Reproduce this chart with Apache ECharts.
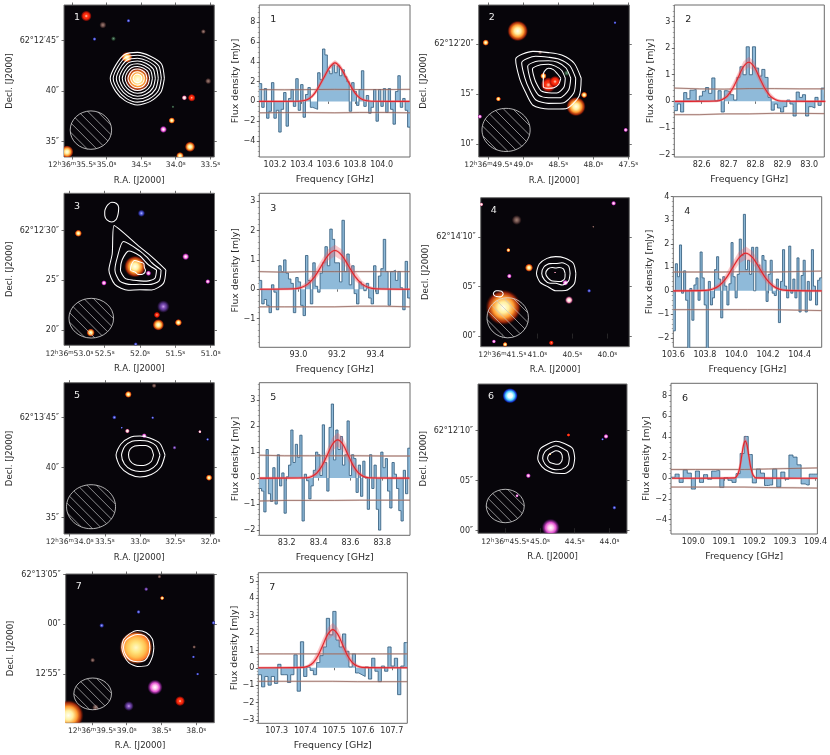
<!DOCTYPE html>
<html>
<head>
<meta charset="utf-8">
<script src="https://cdn.jsdelivr.net/npm/echarts@6/dist/echarts.min.js"></script>
<style>html,body{margin:0;background:#fff}#main{width:830px;height:755px}</style>
</head>
<body>
<div id="main"></div>
<script>
// spectra: flux per channel [mJy]
var flux1 = [1.8,-0.6,1.3,-1.7,-1.0,1.9,-1.7,-0.9,-3.1,-0.8,0.9,-2.5,0.3,1.2,-0.5,2.3,-0.9,1.7,-1.6,0.7,1.4,-0.6,-0.7,-0.8,2.9,2.2,5.3,4.7,3.1,2.8,3.7,2.9,3.6,2.6,3.2,2.5,2.0,-1.0,1.9,1.0,-0.4,1.2,3.1,-0.5,0.6,-1.2,-0.6,1.2,-2.0,1.2,-0.5,1.3,-1.1,1.3,-0.8,-2.3,1.0,2.6,-0.6,0.3,-0.9,-2.6];
var flux2 = [-0.35,-0.1,-0.4,0.33,0.1,0.42,0.45,0.02,0.2,0.38,0.52,0.3,0.88,0.02,0.4,-0.4,0.4,0.35,0.25,0.05,0.9,1.3,1.0,2.05,1.0,2.05,1.25,0.95,1.2,0.9,0.15,-0.33,-0.1,-0.25,-0.4,-0.2,0.05,-0.1,-0.55,0.35,0.15,0.25,-0.55,-0.2,-0.25,0.15,-0.15,0.5];
var flux3 = [0.3,-0.5,-0.35,-0.55,-0.8,0.15,-0.1,-0.7,0.8,0.6,1.0,0.55,0.35,0.2,-0.8,0.4,0.25,-0.55,-0.9,1.15,0.3,-0.5,0.9,0.1,-0.1,0.55,0.9,1.45,0.8,2.05,1.7,0.9,0.9,0.25,2.35,0.6,1.2,0.15,0.8,-0.15,-0.5,0.25,0.15,-0.05,0.2,-0.3,-0.5,0.8,-0.15,0.45,0.7,1.7,0.6,-0.55,0.6,0.65,0.3,0.6,0.05,-0.7,0.95,-0.3];
var flux4 = [-1.7,1.15,0.6,1.95,-0.1,0.85,-0.4,-2.6,0.1,-1.25,0.25,0.55,-0.4,1.65,0.55,-0.6,-2.6,0.4,-0.6,-0.3,0.9,1.45,0.5,-1.15,0.6,0.2,-0.6,0.3,2.05,0.6,-0.3,0.7,2.2,1.5,3.25,0.9,1.3,0.7,1.85,0,1.85,1.1,0.8,1.5,1.3,-0.45,0.7,1.3,-0.1,-0.2,0.5,-1.35,0.4,1.75,0.2,-0.3,1.9,-0.1,0.5,-0.3,1.4,-0.9,0.65,1.3,-0.9,0.4,-0.4,1.75,0.2,-0.6,0.45,0.55];
var flux5 = [-0.4,-0.5,-1.3,1.1,-0.6,-0.9,0.4,-1.0,0.9,-0.3,0.2,-1.35,0.05,0.5,1.85,0.6,1.3,0.8,1.65,-1.65,0.15,-0.1,-0.8,-0.3,0.3,1.0,0.9,0.1,2.05,0.6,-0.5,1.95,2.85,0.7,1.85,1.1,1.6,0.5,0.9,2.2,0.1,0.9,0.75,-0.55,0.5,-0.7,0.65,0.0,-1.2,0.9,-0.4,0.5,-1.2,-2.0,1.0,0.4,0.75,-0.5,-1.15,0.6,0.15,-0.4,-1.25,-1.65,0.3,-0.6,1.15];
var flux6 = [0.1,0.4,-0.4,0.8,0.5,-1.05,0.7,-0.4,0.35,-0.1,0.7,0.75,-0.9,0.05,-0.2,-0.4,0.45,2.4,4.05,2.3,-0.45,0.9,0.5,-0.7,-0.65,0.9,-0.85,0.6,-0.1,2.25,2.05,1.3,-0.55,-0.65,0.4,0.4];
var flux7 = [-0.4,-1.1,-0.5,-1.0,-0.5,-0.9,0.2,-0.4,-0.4,-0.85,-0.4,0.75,-1.35,1.5,-0.5,0.05,-0.15,-0.4,0.3,0.7,1.2,2.85,1.9,3.25,1.6,1.2,1.95,0.95,0.05,0.8,-0.3,-0.4,-0.5,0.05,-0.65,0.55,-0.2,-0.8,0.1,-0.2,1.2,0.1,0.55,-1.55,0.1,1.45];

// fitted line and its uncertainty band
var modelFreq1 = [103.08,103.35,103.395,103.44,103.48,103.52,103.565,103.61,103.65,103.69,103.735,103.78,103.82,103.86,103.905,103.95,104.21];
var modelFlux1 = [0,0.01,0.04,0.17,0.53,1.27,2.37,3.44,3.9,3.44,2.37,1.27,0.53,0.17,0.04,0.01,0];
var bandHigh1 = [0.05,0.05,0.12,0.3,0.8,1.6,2.75,3.75,4.2,3.75,2.75,1.6,0.8,0.3,0.12,0.05,0.05];
var bandLow1 = [-0.05,-0.03,-0.02,0.06,0.35,1.0,2.1,3.2,3.65,3.2,2.1,1.0,0.35,0.06,-0.02,-0.03,-0.05];
var modelFreq2 = [82.5,82.655,82.675,82.695,82.715,82.735,82.755,82.775,82.795,82.815,82.835,82.855,82.875,82.895,83.06];
var modelFlux2 = [0,0.016,0.065,0.2,0.48,0.89,1.3,1.47,1.3,0.89,0.48,0.2,0.065,0.016,0];
var bandHigh2 = [0.03,0.04,0.12,0.32,0.66,1.08,1.5,1.68,1.5,1.08,0.66,0.32,0.12,0.04,0.03];
var bandLow2 = [-0.03,-0.02,0.02,0.12,0.34,0.72,1.12,1.28,1.12,0.72,0.34,0.12,0.02,-0.02,-0.03];
var modelFreq3 = [92.8,92.98,93.015,93.05,93.085,93.12,93.155,93.19,93.225,93.26,93.295,93.33,93.365,93.4,93.58];
var modelFlux3 = [0,0.015,0.058,0.18,0.43,0.8,1.165,1.32,1.165,0.8,0.43,0.18,0.058,0.015,0];
var bandHigh3 = [0.03,0.05,0.12,0.3,0.62,1.0,1.36,1.52,1.36,1.0,0.62,0.3,0.12,0.05,0.03];
var bandLow3 = [-0.03,-0.02,0.01,0.09,0.28,0.62,0.98,1.12,0.98,0.62,0.28,0.09,0.01,-0.02,-0.03];
var modelFreq4 = [103.6,103.805,103.8475,103.89,103.9325,103.975,104.0175,104.06,104.1025,104.145,104.1875,104.23,104.2725,104.315,104.54];
var modelFlux4 = [0,0.018,0.07,0.216,0.52,0.97,1.41,1.6,1.41,0.97,0.52,0.216,0.07,0.018,0];
var bandHigh4 = [0.04,0.06,0.14,0.34,0.72,1.22,1.68,1.88,1.68,1.22,0.72,0.34,0.14,0.06,0.04];
var bandLow4 = [-0.04,-0.02,0.02,0.11,0.34,0.74,1.16,1.34,1.16,0.74,0.34,0.11,0.02,-0.02,-0.04];
var modelFreq5 = [83.03,83.325,83.3575,83.39,83.4225,83.455,83.4875,83.52,83.5525,83.585,83.6175,83.65,83.6825,83.715,83.97];
var modelFlux5 = [0,0.016,0.065,0.2,0.48,0.89,1.3,1.47,1.3,0.89,0.48,0.2,0.065,0.016,0];
var bandHigh5 = [0.04,0.05,0.13,0.34,0.68,1.14,1.56,1.75,1.56,1.14,0.68,0.34,0.13,0.05,0.04];
var bandLow5 = [-0.04,-0.02,0.01,0.08,0.28,0.66,1.05,1.22,1.05,0.66,0.28,0.08,0.01,-0.02,-0.04];
var modelFreq6 = [108.93,109.1355,109.141,109.147,109.153,109.1585,109.164,109.17,109.176,109.1815,109.187,109.193,109.199,109.2045,109.406];
var modelFlux6 = [0,0.04,0.16,0.49,1.17,2.18,3.18,3.6,3.18,2.18,1.17,0.49,0.16,0.04,0];
var bandHigh6 = [0.06,0.1,0.3,0.8,1.6,2.6,3.6,4.2,3.6,2.6,1.6,0.8,0.3,0.1,0.06];
var bandLow6 = [-0.06,-0.04,0.03,0.25,0.8,1.75,2.75,3.1,2.75,1.75,0.8,0.25,0.03,-0.04,-0.06];
var modelFreq7 = [107.236,107.393,107.41,107.427,107.444,107.461,107.478,107.495,107.512,107.529,107.546,107.563,107.58,107.597,107.754];
var modelFlux7 = [0,0.025,0.097,0.3,0.71,1.33,1.94,2.2,1.94,1.33,0.71,0.3,0.097,0.025,0];
var bandHigh7 = [0.05,0.08,0.2,0.52,1.05,1.7,2.3,2.6,2.3,1.7,1.05,0.52,0.2,0.08,0.05];
var bandLow7 = [-0.05,-0.03,0.02,0.12,0.42,0.98,1.6,1.85,1.6,0.98,0.42,0.12,0.02,-0.03,-0.05];

// the +/- 1 sigma noise lines, sampled evenly across each spectrum
var sigmaHigh = [
  [1.2,1.18,1.2,1.22,1.2,1.2,1.22],
  [0.5,0.47,0.46,0.48,0.48,0.47,0.47],
  [0.6,0.58,0.6,0.6,0.6,0.6,0.6],
  [0.8,0.8,0.8,0.82,0.8,0.82,0.84],
  [0.88,0.86,0.86,0.86,0.86,0.85,0.85],
  [0.85,0.85,0.85,0.85,0.9,0.95,1.0],
  [0.8,0.8,0.8,0.8,0.8,0.8,0.8]
];
var sigmaLow = [
  [-1.15,-1.13,-1.13,-1.15,-1.12,-1.12,-1.15],
  [-0.5,-0.5,-0.47,-0.47,-0.45,-0.45,-0.46],
  [-0.6,-0.6,-0.6,-0.6,-0.58,-0.58,-0.6],
  [-0.8,-0.8,-0.8,-0.8,-0.8,-0.82,-0.84],
  [-0.88,-0.86,-0.86,-0.86,-0.85,-0.85,-0.85],
  [-0.85,-0.85,-0.85,-0.85,-0.9,-0.92,-0.95],
  [-0.78,-0.78,-0.78,-0.78,-0.8,-0.8,-0.8]
];

var freqRange = [[103.082,104.213],[82.498,83.056],[92.797,93.58],[103.6,104.54],[83.028,83.974],[108.927,109.406],[107.236,107.754]];
var fluxRange = [[-5.62,9.75],[-2.09,3.62],[-1.98,3.27],[-2.4,4],[-2.2,3.67],[-5.4,9.2],[-3.2,5.48]];
var freqTicks = [
  [103.2,103.4,103.6,103.8,104.0],
  [82.6,82.7,82.8,82.9,83.0],
  [93.0,93.2,93.4],
  [103.6,103.8,104.0,104.2,104.4],
  [83.2,83.4,83.6,83.8],
  [109.0,109.1,109.2,109.3,109.4],
  [107.3,107.4,107.5,107.6,107.7]
];
var fluxTicks = [
  [-4,-2,0,2,4,6,8],
  [-2,-1,0,1,2,3],
  [-1,0,1,2,3],
  [-2,-1,0,1,2,3,4],
  [-2,-1,0,1,2,3],
  [-4,-2,0,2,4,6,8],
  [-3,-2,-1,0,1,2,3,4,5]
];
var fluxMinorStep = [0.5,0.2,0.2,0.2,0.2,0.5,0.2];

// image panels: sky axes, R.A. seconds and Dec arcsec
var raRange = [[35.615,33.442],[49.637,47.486],[53.076,50.945],[41.809,39.686],[34.08,31.945],[45.892,43.748],[39.878,37.74]];
var decRange = [[33.49,48.53],[8.73,23.89],[18.46,33.77],[-1.08,14.01],[33.37,48.5],[-0.26,14.67],[50.06,65.07]];
var raTicks = [
  [35.5,35.0,34.5,34.0,33.5],
  [49.5,49.0,48.5,48.0,47.5],
  [53.0,52.5,52.0,51.5,51.0],
  [41.5,41.0,40.5,40.0],
  [34.0,33.5,33.0,32.5,32.0],
  [45.5,45.0,44.5,44.0],
  [39.5,39.0,38.5,38.0]
];
var raLabels = [
  ['12h36m35.5s','35.0s','34.5s','34.0s','33.5s'],
  ['12h36m49.5s','49.0s','48.5s','48.0s','47.5s'],
  ['12h36m53.0s','52.5s','52.0s','51.5s','51.0s'],
  ['12h36m41.5s','41.0s','40.5s','40.0s'],
  ['12h36m34.0s','33.5s','33.0s','32.5s','32.0s'],
  ['12h36m45.5s','45.0s','44.5s','44.0s'],
  ['12h36m39.5s','39.0s','38.5s','38.0s']
];
var decTicks = [[35,40,45],[10,15,20],[20,25,30],[0,5,10],[35,40,45],[0,5,10],[55,60,65]];
var decLabels = [
  ['35″','40″','62°12′45″'],
  ['10″','15″','62°12′20″'],
  ['20″','25″','62°12′30″'],
  ['00″','05″','62°14′10″'],
  ['35″','40″','62°13′45″'],
  ['00″','05″','62°12′10″'],
  ['12′55″','00″','62°13′05″']
];

// field sources: ra, dec, major and minor radius in arcsec, tilt in degrees, kind
var sources1 = [[34.548,41.17,1.0,0.95,0,'orange'],[35.293,47.44,0.75,0.42,90,'red'],[34.706,43.35,0.5,0.42,0,'orange'],[34.178,36.22,0.5,0.28,90,'magenta'],[33.793,34.5,0.85,0.4,80,'orange'],[33.769,39.35,0.3,0.3,0,'red'],[34.057,37.1,0.25,0.25,0,'orange'],[35.572,34.0,0.55,0.5,0,'orange'],[33.938,33.6,0.4,0.3,0,'orange'],[33.875,39.35,0.22,0.22,0,'white'],[35.053,46.55,0.28,0.28,0,'dim'],[34.683,46.97,0.16,0.16,0,'blue'],[35.174,45.16,0.16,0.16,0,'blue'],[34.9,45.2,0.2,0.2,0,'green'],[33.53,41,0.25,0.25,0,'dim'],[33.6,45.9,0.2,0.2,0,'dim'],[34.04,38.46,0.12,0.12,0,'green']];
var sources2 = [[49.08,21.3,0.85,0.8,0,'orange'],[49.537,20.14,0.6,0.25,-25,'orange'],[48.642,15.92,0.65,0.6,0,'red'],[48.713,16.81,0.3,0.25,0,'orange'],[48.547,16.25,0.5,0.45,0,'red'],[48.247,13.76,1.2,0.75,95,'orange'],[48.131,14.92,0.3,0.25,0,'orange'],[49.356,14.52,0.45,0.2,-20,'orange'],[47.537,11.43,0.5,0.18,-50,'magenta'],[48.76,19.17,0.18,0.18,0,'dim'],[47.69,22.13,0.13,0.13,0,'blue'],[48.38,17.1,0.25,0.25,0,'green'],[49.62,12.76,0.18,0.18,0,'magenta']];
var sources3 = [[52.07,26.39,1.05,0.85,-15,'orange'],[51.88,25.72,0.55,0.22,50,'magenta'],[52.873,29.74,0.6,0.28,-5,'orange'],[51.353,27.39,0.6,0.28,90,'magenta'],[52.51,24.74,0.3,0.22,-30,'magenta'],[51.04,24.88,0.22,0.2,0,'magenta'],[51.74,20.52,1.2,0.45,30,'orange'],[51.76,21.52,0.3,0.25,0,'red'],[51.456,20.75,0.3,0.28,0,'orange'],[52.698,19.74,0.6,0.32,-25,'orange'],[51.98,31.76,0.45,0.3,60,'blue'],[51.67,22.36,0.65,0.5,0,'purple'],[52.06,18.57,0.17,0.17,0,'blue']];
var sources4 = [[41.485,2.9,1.5,1.4,0,'orange'],[41.119,6.92,0.5,0.32,85,'orange'],[40.547,3.64,0.48,0.33,-60,'white'],[40.6,5.4,0.28,0.24,0,'magenta'],[41.414,8.7,0.17,0.17,0,'orange'],[41.295,11.75,0.4,0.4,0,'dim'],[41.4,6.07,0.2,0.2,0,'magenta'],[40.26,4.58,0.17,0.17,0,'blue'],[39.91,13.44,0.24,0.2,0,'magenta'],[41.8,13.33,0.25,0.17,90,'white'],[40.8,-0.69,0.2,0.2,0,'red'],[41.46,-0.85,0.2,0.2,0,'orange'],[41.62,-0.55,0.17,0.17,0,'magenta'],[40.747,6.44,0.07,0.07,0,'white'],[40.2,11.07,0.1,0.1,0,'dim']];
var sources5 = [[33.166,47.33,0.42,0.27,85,'orange'],[32.8,48.2,0.2,0.2,0,'dim'],[33.365,45.03,0.24,0.18,0,'blue'],[33.18,43.67,0.3,0.2,-40,'white'],[33.26,44,0.1,0.1,0,'blue'],[32.94,43.2,0.24,0.2,0,'magenta'],[32.51,42,0.55,0.16,30,'purple'],[32.15,43.6,0.3,0.14,-40,'white'],[32.02,39,0.28,0.25,0,'orange'],[32.04,42.83,0.13,0.13,0,'blue'],[32.82,45,0.13,0.13,0,'blue']];
var sources6 = [[45.43,13.5,0.6,0.6,0,'cyan'],[44.846,0.3,0.85,0.7,0,'magenta'],[45.168,5.5,0.55,0.2,30,'magenta'],[44.05,9.43,0.28,0.2,-40,'magenta'],[44.1,9.14,0.12,0.12,0,'blue'],[44.59,9.57,0.28,0.14,15,'red'],[44.856,7.64,0.1,0.1,0,'orange'],[45.33,3.5,0.14,0.14,0,'magenta'],[43.93,2.3,0.17,0.17,0,'blue']];
var sources7 = [[38.866,57.64,1.3,1.3,0,'yellow'],[38.593,53.64,0.75,0.6,0,'magenta'],[38.233,52.24,0.4,0.4,0,'red'],[39.84,50.8,1.2,1.2,0,'orange'],[38.97,51.74,0.4,0.4,0,'purple'],[39.45,51.6,0.27,0.27,0,'dim'],[39.49,56.37,0.25,0.2,90,'dim'],[39.36,59.87,0.25,0.2,0,'blue'],[38.83,61.24,0.17,0.17,0,'blue'],[38.49,62.64,0.17,0.17,0,'orange'],[38.72,63.54,0.17,0.17,0,'purple'],[37.75,60.14,0.17,0.17,0,'blue'],[38.03,57.7,0.15,0.15,0,'dim'],[38.04,56.7,0.13,0.13,0,'blue'],[37.98,54.97,0.13,0.13,0,'blue'],[38.53,64.8,0.16,0.16,0,'dim']];

// contours: centre ra, centre dec, radius in arcsec every 30 degrees
var contours1 = [
  [34.553,41.27,[2.74,2.83,2.55,2.57,2.7,2.57,2.77,2.57,2.54,2.64,2.63,2.75]],
  [34.553,41.27,[2.43,2.5,2.28,2.28,2.4,2.3,2.47,2.3,2.28,2.35,2.35,2.45]],
  [34.553,41.27,[2.12,2.18,2.0,2.0,2.1,2.02,2.15,2.02,2.0,2.05,2.07,2.13]],
  [34.553,41.27,[1.82,1.85,1.72,1.72,1.8,1.74,1.85,1.75,1.72,1.77,1.78,1.83]],
  [34.553,41.27,[1.52,1.55,1.44,1.45,1.5,1.46,1.55,1.47,1.45,1.48,1.5,1.53]],
  [34.553,41.27,[1.24,1.25,1.18,1.18,1.22,1.2,1.25,1.2,1.18,1.2,1.22,1.24]],
  [34.553,41.27,[0.96,0.97,0.92,0.92,0.95,0.93,0.97,0.93,0.92,0.93,0.95,0.96]],
  [34.553,41.27,[0.7,0.7,0.66,0.66,0.68,0.67,0.7,0.67,0.66,0.67,0.68,0.7]],
  [34.553,41.27,[0.44,0.44,0.42,0.42,0.43,0.42,0.44,0.42,0.42,0.42,0.43,0.44]]
];
var contours2 = [
  [48.642,16.58,[3.3,3.0,2.68,2.56,3.1,3.8,2.9,2.68,3.1,3.06,3.5,3.56]],
  [48.642,16.58,[2.75,2.5,2.2,2.1,2.55,3.1,2.35,2.2,2.5,2.5,2.85,2.95]],
  [48.642,16.58,[2.25,2.05,1.85,1.75,2.0,2.4,1.85,1.75,1.95,1.95,2.25,2.35]],
  [48.642,16.58,[1.7,1.55,1.4,1.4,1.55,1.85,1.4,1.3,1.45,1.45,1.7,1.8]],
  [48.642,16.58,[1.25,1.0,1.0,1.0,0.8,0.6,0.5,0.6,1.0,1.0,1.1,1.2]]
];
var contours3 = [
  [52.0,26.05,[2.58,1.86,1.81,2.3,5.17,3.2,3.1,2.9,2.36,2.0,2.33,2.7]],
  [52.0,26.05,[2.1,1.4,1.45,1.9,3.3,2.6,2.5,2.3,1.7,1.45,1.7,2.2]],
  [52.0,26.05,[1.65,1.0,1.0,1.4,2.2,2.05,1.95,1.7,1.2,1.1,1.3,1.7]],
  [52.0,26.05,[0.55,0.5,0.75,0.8,1.1,1.0,0.95,0.5,0.5,0.45,0.5,0.55]],
  [52.4,31.92,[0.67,0.8,0.95,0.95,0.8,0.7,0.7,0.8,0.95,1.05,0.9,0.7]]
];
var contours4 = [
  [40.738,6.34,[2.03,2.05,1.8,1.7,1.76,1.9,1.93,1.8,1.55,1.75,2.0,2.15]],
  [40.738,6.34,[1.45,1.5,1.25,1.0,1.15,1.35,1.4,1.3,1.15,1.0,1.35,1.5]],
  [40.738,6.34,[0.95,0.9,0.7,0.55,0.7,0.9,1.0,0.9,0.85,0.8,0.95,1.05]],
  [41.557,4.28,[0.5,0.42,0.32,0.3,0.36,0.45,0.5,0.42,0.32,0.3,0.36,0.45]]
];
var contours5 = [
  [33.0,41.27,[2.5,2.3,1.95,1.9,2.03,2.2,2.4,2.3,2.2,2.2,2.25,2.4]],
  [33.0,41.27,[2.0,1.85,1.6,1.45,1.6,1.75,1.85,1.8,1.7,1.65,1.75,1.9]],
  [33.0,41.27,[1.35,1.3,1.1,0.95,1.05,1.15,1.15,1.15,1.1,1.05,1.15,1.3]]
];
var contours6 = [
  [44.77,7.24,[1.9,1.95,1.7,1.7,1.65,1.85,1.85,1.65,1.5,1.5,1.75,1.95]],
  [44.77,7.24,[1.35,1.35,1.2,1.25,1.2,1.3,1.35,1.25,1.15,1.15,1.25,1.4]],
  [44.77,7.24,[0.65,0.7,0.75,0.75,0.7,0.8,0.85,0.75,0.6,0.6,0.65,0.65]]
];
var contours7 = [
  [38.847,57.64,[1.67,1.75,1.77,1.73,1.6,1.62,1.57,1.57,1.75,1.9,2.07,1.77]],
  [38.847,57.64,[1.27,1.35,1.4,1.33,1.3,1.4,1.4,1.4,1.45,1.43,1.5,1.35]]
];

// beam ellipse: centre ra, centre dec, radii in arcsec
var beams = [[35.226,36.15,2.05,1.9],[49.246,11.43,2.4,2.15],[52.69,21.19,2.25,2.0],[41.423,1.85,2.1,2.03],[33.696,36.1,2.45,2.2],[45.5,2.47,1.9,1.67],[39.49,52.97,1.9,1.6]];

var allFlux = [flux1,flux2,flux3,flux4,flux5,flux6,flux7];
var allFreq = [modelFreq1,modelFreq2,modelFreq3,modelFreq4,modelFreq5,modelFreq6,modelFreq7];
var allModel = [modelFlux1,modelFlux2,modelFlux3,modelFlux4,modelFlux5,modelFlux6,modelFlux7];
var allHigh = [bandHigh1,bandHigh2,bandHigh3,bandHigh4,bandHigh5,bandHigh6,bandHigh7];
var allLow = [bandLow1,bandLow2,bandLow3,bandLow4,bandLow5,bandLow6,bandLow7];
var allSources = [sources1,sources2,sources3,sources4,sources5,sources6,sources7];
var allContours = [contours1,contours2,contours3,contours4,contours5,contours6,contours7];

// layout, left/top/right/bottom in page pixels
var imgBox = [[64,5,214.3,157],[478.7,5,629.3,157],[64,193.3,214.5,345.3],[480.7,197.7,629.3,346.7],[64,382.7,214.3,534],[478,384,627,533.3],[65.7,574,214.3,722.7]];
var specBox = [[259.3,5,410,157],[674.3,5,824.3,157],[259.3,193.3,410,347.3],[673.3,196.7,821.7,347.3],[259.3,382.7,410,535.3],[671,383.3,820.3,534],[258.3,572.7,407.3,723.3]];

var FONT = '"DejaVu Sans", Verdana, sans-serif';
var TEXT = '#2b2b2b';
var ARCSEC_PER_RASEC = 7.04;
var GLOW_SCALE = 1.3;

var glow = {
  orange: ['#fffff0','#fff0a0','#ff9a30','rgba(200,50,10,0.8)','rgba(90,10,0,0)'],
  yellow: ['#fff8c8','#ffe680','#ffc050','#ff7a28','rgba(130,25,0,0)'],
  red: ['#ffd0c0','#ff3a14','#f02008','rgba(150,15,5,0.75)','rgba(70,0,0,0)'],
  white: ['#ffffff','#fff0e8','#f090b0','rgba(120,40,90,0.6)','rgba(40,0,40,0)'],
  magenta: ['#ffffff','#ffc0ec','#e050d0','rgba(110,30,120,0.7)','rgba(50,0,60,0)'],
  purple: ['#c8a0e8','#8050b8','#503080','rgba(50,25,80,0.6)','rgba(20,0,40,0)'],
  blue: ['#b0b8ff','#6068e0','#3036a0','rgba(25,25,90,0.6)','rgba(0,0,40,0)'],
  cyan: ['#ffffff','#e8ffff','#50d0ff','rgba(20,60,230,0.85)','rgba(0,0,100,0)'],
  dim: ['#a08078','#806058','#503838','rgba(50,30,30,0.6)','rgba(20,10,10,0)'],
  green: ['#70a080','#406850','#2a4030','rgba(20,40,25,0.6)','rgba(0,20,0,0)']
};

function renderSource(params, api) {
  var item = allSources[sourceOwner[params.seriesIndex]][params.dataIndex];
  var c = api.coord([item[0], item[1]]);
  var pxPerArcsec = api.size([0, 1])[1] * GLOW_SCALE;
  var stops = glow[item[5]].map(function (col, i) { return {offset: [0, 0.3, 0.58, 0.82, 1][i], color: col}; });
  return {
    type: 'ellipse',
    x: c[0], y: c[1],
    rotation: item[4] * Math.PI / 180,
    shape: {cx: 0, cy: 0, rx: item[2] * pxPerArcsec, ry: item[3] * pxPerArcsec},
    style: {fill: new echarts.graphic.RadialGradient(0.5, 0.5, 0.5, stops)}
  };
}

// beam outline with diagonal hatching
function renderBeam(params, api) {
  var c = api.coord([api.value(0), api.value(1)]);
  var pxPerArcsec = api.size([0, 1])[1];
  var rx = api.value(2) * pxPerArcsec, ry = api.value(3) * pxPerArcsec;
  var kids = [{type: 'ellipse', shape: {cx: c[0], cy: c[1], rx: rx, ry: ry}, style: {fill: null, stroke: '#dcdcdc', lineWidth: 0.8}}];
  // chords y = -x + k through the ellipse, 9.5px apart along x
  for (var k = -2 * rx; k <= 2 * rx; k += 9.5) {
    var a = 1 / (rx * rx) + 1 / (ry * ry), b = -2 * k / (ry * ry), d = k * k / (ry * ry) - 1;
    var disc = b * b - 4 * a * d;
    if (disc <= 0) continue;
    var x1 = (-b - Math.sqrt(disc)) / (2 * a), x2 = (-b + Math.sqrt(disc)) / (2 * a);
    kids.push({type: 'line', shape: {x1: c[0] + x1, y1: c[1] + x1 - k, x2: c[0] + x2, y2: c[1] + x2 - k}, style: {stroke: '#c4c4c4', lineWidth: 0.7}});
  }
  return {type: 'group', children: kids};
}

function contourPoints(entry) {
  var pts = entry[2].map(function (r, i) {
    var t = i * 30 * Math.PI / 180;
    return [entry[0] - r * Math.cos(t) / ARCSEC_PER_RASEC, entry[1] + r * Math.sin(t)];
  });
  pts.push(pts[0]);
  return pts;
}

function stepData(flux, range) {
  var w = (range[1] - range[0]) / flux.length;
  var pts = flux.map(function (v, i) { return [range[0] + (i + 0.5) * w, v]; });
  pts.unshift([range[0], flux[0]]);
  pts.push([range[1], flux[flux.length - 1]]);
  return pts;
}

function minorTicks(range, step) {
  var out = [];
  for (var v = Math.ceil(range[0] / step) * step; v <= range[1]; v += step) out.push(+v.toFixed(3));
  return out;
}

function sigmaData(vals, range) {
  return vals.map(function (v, i) { return [range[0] + (range[1] - range[0]) * i / (vals.length - 1), v]; });
}

function lookup(ticks, labels) {
  return function (v) {
    for (var i = 0; i < ticks.length; i++) if (Math.abs(ticks[i] - v) < 1e-6) return labels[i];
    return '';
  };
}

var grids = [], xAxes = [], yAxes = [], series = [], titles = [], sourceOwner = {};
var tickLine = {color: '#333', width: 0.7};
var labelBase = {color: TEXT, fontFamily: FONT, fontSize: 8};
var nameBase = {color: TEXT, fontFamily: FONT, fontSize: 9.4};
var raNameBase = {color: TEXT, fontFamily: FONT, fontSize: 8.6};

function addGrid(box, bg, border) {
  grids.push({show: true, left: box[0], top: box[1], width: box[2] - box[0], height: box[3] - box[1],
    backgroundColor: bg, borderColor: border, borderWidth: 1});
  return grids.length - 1;
}

for (var p = 0; p < 7; p++) {
  (function (p) {
    // sky image
    var g = addGrid(imgBox[p], '#07050a', '#6e6e6e');
    var xi = xAxes.length, yi = yAxes.length;
    var raLabel = lookup(raTicks[p], raLabels[p].map(function (s) { return s.replace(/([hms])/g, '{u|$1}'); }));
    xAxes.push({type: 'value', gridIndex: g, inverse: true, min: raRange[p][1], max: raRange[p][0], position: 'bottom',
      name: 'R.A. [J2000]', nameLocation: 'middle', nameGap: 19, nameTextStyle: raNameBase,
      axisLine: {show: false}, splitLine: {show: false},
      axisTick: {show: true, length: 2.5, customValues: raTicks[p], lineStyle: tickLine},
      axisLabel: Object.assign({}, labelBase, {fontSize: 7.6, customValues: raTicks[p], margin: 4, hideOverlap: false,
        showMinLabel: true, showMaxLabel: true, formatter: raLabel,
        rich: {u: {fontSize: 5.5, fontFamily: FONT, color: TEXT, verticalAlign: 'bottom', padding: [0, 0, 3, 0]}}})});
    xAxes.push({type: 'value', gridIndex: g, inverse: true, min: raRange[p][1], max: raRange[p][0], position: 'top',
      axisLine: {show: false}, splitLine: {show: false}, axisLabel: {show: false},
      axisTick: {show: true, length: 2.5, customValues: raTicks[p], lineStyle: tickLine}});
    yAxes.push({type: 'value', gridIndex: g, min: decRange[p][0], max: decRange[p][1], position: 'left',
      name: 'Decl. [J2000]', nameLocation: 'middle', nameGap: 50, nameRotate: 90, nameTextStyle: raNameBase,
      axisLine: {show: false}, splitLine: {show: false},
      axisTick: {show: true, length: 2.5, customValues: decTicks[p], lineStyle: tickLine},
      axisLabel: Object.assign({}, labelBase, {customValues: decTicks[p], margin: 5, showMinLabel: true, showMaxLabel: true,
        formatter: lookup(decTicks[p], decLabels[p])})});
    yAxes.push({type: 'value', gridIndex: g, min: decRange[p][0], max: decRange[p][1], position: 'right',
      axisLine: {show: false}, splitLine: {show: false}, axisLabel: {show: false},
      axisTick: {show: true, length: 2.5, customValues: decTicks[p], lineStyle: tickLine}});

    sourceOwner[series.length] = p;
    series.push({type: 'custom', xAxisIndex: xi, yAxisIndex: yi, clip: true, silent: true, renderItem: renderSource,
      data: allSources[p].map(function (s) { return [s[0], s[1]]; }), encode: {x: 0, y: 1}, z: 2});
    allContours[p].forEach(function (entry) {
      series.push({type: 'line', xAxisIndex: xi, yAxisIndex: yi, data: contourPoints(entry), showSymbol: false, silent: true,
        smooth: 0.25, lineStyle: {color: '#ffffff', width: 1.05}, z: 3});
    });
    series.push({type: 'custom', xAxisIndex: xi, yAxisIndex: yi, clip: true, silent: true, renderItem: renderBeam,
      data: [beams[p]], encode: {x: 0, y: 1}, z: 4});
    titles.push({text: String(p + 1), left: imgBox[p][0] + 5, top: imgBox[p][1] + 3,
      textStyle: {color: '#eee', fontFamily: FONT, fontSize: 9.5, fontWeight: 'normal'}});

    // spectrum
    var g2 = addGrid(specBox[p], '#fff', '#6a6a6a');
    var xs = xAxes.length, ys = yAxes.length;
    var freq = allFreq[p];
    xAxes.push({type: 'value', gridIndex: g2, min: freqRange[p][0], max: freqRange[p][1],
      name: 'Frequency [GHz]', nameLocation: 'middle', nameGap: 18, nameTextStyle: nameBase,
      axisLine: {show: false}, splitLine: {show: false},
      axisTick: {show: true, length: 2.5, customValues: freqTicks[p], lineStyle: tickLine},
      axisLabel: Object.assign({}, labelBase, {customValues: freqTicks[p], margin: 4, showMinLabel: true, showMaxLabel: true,
        formatter: function (v) { return v.toFixed(1); }})});
    yAxes.push({type: 'value', gridIndex: g2, min: fluxRange[p][0], max: fluxRange[p][1],
      name: 'Flux density [mJy]', nameLocation: 'middle', nameGap: 18, nameRotate: 90, nameTextStyle: nameBase,
      axisLine: {show: false}, splitLine: {show: false},
      axisTick: {show: true, length: 2.5, customValues: fluxTicks[p], lineStyle: tickLine},
      axisLabel: Object.assign({}, labelBase, {customValues: fluxTicks[p], margin: 4, showMinLabel: true, showMaxLabel: true,
        formatter: function (v) { return v < 0 ? '−' + (-v) : String(v); }})});
    yAxes.push({type: 'value', gridIndex: g2, min: fluxRange[p][0], max: fluxRange[p][1], position: 'left',
      axisLine: {show: false}, splitLine: {show: false}, axisLabel: {show: false},
      axisTick: {show: true, length: 1.5, customValues: minorTicks(fluxRange[p], fluxMinorStep[p]), lineStyle: {color: '#555', width: 0.5}}});

    series.push({type: 'line', xAxisIndex: xs, yAxisIndex: ys, data: stepData(allFlux[p], freqRange[p]), step: 'middle', showSymbol: false, silent: true,
      lineStyle: {color: '#36607f', width: 0.85}, areaStyle: {color: '#8fbad9', opacity: 1, origin: 0}, z: 2});
    [sigmaHigh[p], sigmaLow[p]].forEach(function (vals) {
      var d = sigmaData(vals, freqRange[p]);
      series.push({type: 'line', xAxisIndex: xs, yAxisIndex: ys, data: d, showSymbol: false, silent: true,
        lineStyle: {color: 'rgba(200,160,150,0.5)', width: 1.8}, z: 3});
      series.push({type: 'line', xAxisIndex: xs, yAxisIndex: ys, data: d, showSymbol: false, silent: true,
        lineStyle: {color: '#7d4a42', width: 0.6}, z: 3});
    });
    series.push({type: 'custom', xAxisIndex: xs, yAxisIndex: ys, clip: true, silent: true,
      data: freq.map(function (f, i) { return [f, allLow[p][i], allHigh[p][i]]; }), encode: {x: 0, y: [1, 2]}, z: 4,
      renderItem: function (params, api) {
        if (params.dataIndex !== 0) return null;
        var up = freq.map(function (f, i) { return api.coord([f, allHigh[p][i]]); });
        var dn = freq.map(function (f, i) { return api.coord([f, allLow[p][i]]); }).reverse();
        return {type: 'polygon', shape: {points: up.concat(dn), smooth: 0}, style: {fill: 'rgba(232,90,100,0.32)'}};
      }});
    var modelPts = freq.map(function (f, i) { return [f, allModel[p][i]]; });
    series.push({type: 'line', xAxisIndex: xs, yAxisIndex: ys, data: modelPts, showSymbol: false, silent: true, smooth: 0.3,
      lineStyle: {color: 'rgba(240,110,110,0.4)', width: 2.6}, z: 5});
    series.push({type: 'line', xAxisIndex: xs, yAxisIndex: ys, data: modelPts, showSymbol: false, silent: true, smooth: 0.3,
      lineStyle: {color: '#e0242c', width: 1.1}, z: 6});
    titles.push({text: String(p + 1), left: specBox[p][0] + 6, top: specBox[p][1] + 5,
      textStyle: {color: '#222', fontFamily: FONT, fontSize: 9.5, fontWeight: 'normal'}});
  })(p);
}

var myChart = echarts.init(document.getElementById('main'), null, {renderer: 'canvas'});
myChart.setOption({animation: false, backgroundColor: '#fff', title: titles, grid: grids, xAxis: xAxes, yAxis: yAxes, series: series});
</script>
</body>
</html>
